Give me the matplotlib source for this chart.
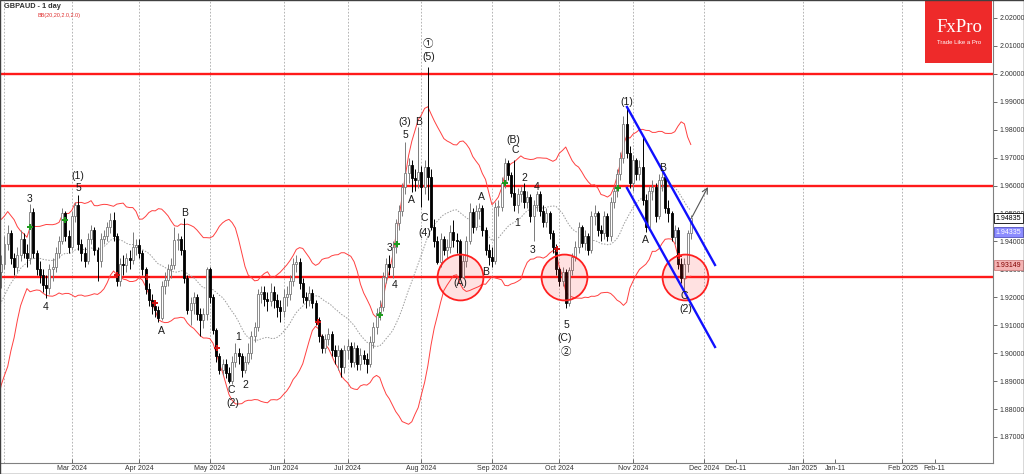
import numpy as np
import pandas as pd
import matplotlib
matplotlib.use("Agg")
import matplotlib.pyplot as plt
from matplotlib.patches import Rectangle
import matplotlib.transforms as mtransforms

# ---------------- data (GBPAUD daily) ----------------
first_open = 1.868
jan_close = [1.872, 1.884, 1.893, 1.896, 1.892, 1.899, 1.898, 1.904, 1.914, 1.917, 1.925,
             1.930, 1.928, 1.929, 1.931, 1.928, 1.933, 1.932, 1.929, 1.927, 1.929, 1.932]
jan_high = [1.876, 1.887, 1.896, 1.899, 1.898, 1.902, 1.903, 1.907, 1.916, 1.920, 1.928,
            1.934, 1.933, 1.932, 1.935, 1.934, 1.936, 1.936, 1.934, 1.932, 1.932, 1.935]
jan_low = [1.864, 1.870, 1.882, 1.890, 1.889, 1.890, 1.895, 1.896, 1.902, 1.911, 1.915,
           1.922, 1.925, 1.925, 1.927, 1.926, 1.927, 1.929, 1.927, 1.924, 1.925, 1.9235]

feb_close = [1.939, 1.943, 1.934, 1.931, 1.935, 1.941, 1.936, 1.934, 1.9507, 1.936, 1.930,
             1.928, 1.9245, 1.9235, 1.930, 1.931, 1.936, 1.940, 1.950, 1.942, 1.938]
feb_high = [1.942, 1.946, 1.944, 1.936, 1.938, 1.944, 1.943, 1.939, 1.9535, 1.952, 1.937,
            1.933, 1.930, 1.928, 1.932, 1.934, 1.938, 1.942, 1.952, 1.951, 1.944]
feb_low = [1.930, 1.937, 1.932, 1.928, 1.929, 1.933, 1.934, 1.931, 1.932, 1.934, 1.928,
           1.925, 1.922, 1.9196, 1.921, 1.926, 1.929, 1.934, 1.939, 1.940, 1.936]

mar_close = [1.949, 1.953, 1.939, 1.936, 1.933, 1.941, 1.944, 1.937, 1.933, 1.941, 1.942,
             1.945, 1.9478, 1.942, 1.926, 1.932, 1.9315, 1.934, 1.9335, 1.938, 1.9387]
mar_high = [1.951, 1.954, 1.9566, 1.941, 1.938, 1.943, 1.946, 1.945, 1.938, 1.943, 1.944,
            1.947, 1.950, 1.9507, 1.943, 1.934, 1.935, 1.936, 1.937, 1.9435, 1.941]
mar_low = [1.937, 1.947, 1.937, 1.933, 1.931, 1.932, 1.939, 1.935, 1.926, 1.931, 1.939,
           1.940, 1.943, 1.940, 1.924, 1.924, 1.928, 1.929, 1.930, 1.932, 1.935]

apr_close = [1.936, 1.930, 1.923, 1.919, 1.917, 1.9155, 1.9125, 1.924, 1.9262, 1.930, 1.9316,
             1.9405, 1.941, 1.937, 1.927, 1.9155, 1.918, 1.920, 1.914, 1.912, 1.914, 1.930]
apr_high = [1.941, 1.937, 1.931, 1.925, 1.921, 1.919, 1.917, 1.926, 1.929, 1.932, 1.934,
            1.9453, 1.943, 1.942, 1.9483, 1.928, 1.920, 1.922, 1.921, 1.916, 1.916, 1.931]
apr_low = [1.934, 1.928, 1.921, 1.917, 1.914, 1.913, 1.9113, 1.912, 1.921, 1.924, 1.927,
           1.930, 1.937, 1.935, 1.925, 1.914, 1.910, 1.914, 1.912, 1.906, 1.909, 1.912]

may_close = [1.920, 1.9083, 1.899, 1.894, 1.896, 1.893, 1.890, 1.897, 1.900, 1.899, 1.894,
             1.897, 1.900, 1.906, 1.9095, 1.921, 1.922, 1.9195, 1.9185, 1.922, 1.919, 1.9166, 1.915]
may_high = [1.931, 1.921, 1.909, 1.900, 1.898, 1.898, 1.895, 1.899, 1.9035, 1.902, 1.900,
            1.899, 1.9035, 1.908, 1.911, 1.923, 1.924, 1.924, 1.922, 1.925, 1.924, 1.921, 1.919]
may_low = [1.918, 1.907, 1.897, 1.8925, 1.892, 1.891, 1.8892, 1.889, 1.895, 1.896, 1.8916,
           1.893, 1.896, 1.898, 1.904, 1.908, 1.918, 1.917, 1.915, 1.917, 1.916, 1.913, 1.911]

jun_close = [1.920, 1.921, 1.926, 1.932, 1.9328, 1.925, 1.920, 1.919, 1.9215, 1.918,
             1.912, 1.906, 1.902, 1.905, 1.907, 1.901, 1.899, 1.901, 1.895, 1.901]
jun_high = [1.923, 1.924, 1.928, 1.934, 1.935, 1.934, 1.927, 1.922, 1.924, 1.923,
            1.919, 1.913, 1.907, 1.907, 1.909, 1.908, 1.903, 1.903, 1.902, 1.903]
jun_low = [1.913, 1.917, 1.919, 1.924, 1.929, 1.923, 1.918, 1.916, 1.917, 1.916,
           1.910, 1.904, 1.900, 1.900, 1.903, 1.899, 1.896, 1.894, 1.8916, 1.893]

jul_close = [1.9027, 1.897, 1.902, 1.896, 1.8995, 1.898, 1.896, 1.904, 1.9095, 1.9142, 1.9166,
             1.9274, 1.932, 1.931, 1.938, 1.9465, 1.951, 1.9596, 1.9644, 1.9674, 1.9627, 1.962, 1.965]
jul_high = [1.905, 1.904, 1.904, 1.903, 1.902, 1.901, 1.900, 1.906, 1.911, 1.916, 1.919,
            1.929, 1.934, 1.935, 1.940, 1.948, 1.953, 1.961, 1.9757, 1.970, 1.969, 1.966, 1.981]
jul_low = [1.898, 1.895, 1.895, 1.894, 1.894, 1.896, 1.893, 1.895, 1.902, 1.907, 1.912,
           1.915, 1.925, 1.928, 1.927, 1.936, 1.944, 1.949, 1.957, 1.961, 1.9578, 1.958, 1.959]

aug_close = [1.9596, 1.9668, 1.963, 1.9453, 1.940, 1.9328, 1.941, 1.937, 1.938, 1.9435, 1.9405,
             1.940, 1.9274, 1.933, 1.940, 1.9507, 1.9453, 1.951, 1.952, 1.944, 1.937, 1.9345]
aug_high = [1.967, 1.969, 2.0025, 1.966, 1.948, 1.942, 1.943, 1.942, 1.941, 1.946, 1.9475,
            1.943, 1.941, 1.935, 1.942, 1.9537, 1.952, 1.953, 1.9537, 1.953, 1.945, 1.939]
aug_low = [1.9525, 1.957, 1.955, 1.944, 1.938, 1.932, 1.931, 1.935, 1.934, 1.936, 1.938,
           1.936, 1.9265, 1.927, 1.931, 1.939, 1.943, 1.944, 1.948, 1.942, 1.935, 1.9316]

sep_close = [1.933, 1.9524, 1.9525, 1.961, 1.968, 1.9638, 1.9572, 1.953, 1.957, 1.958, 1.954,
             1.956, 1.949, 1.953, 1.957, 1.951, 1.947, 1.950, 1.943, 1.938, 1.930]
sep_high = [1.938, 1.954, 1.955, 1.963, 1.9697, 1.969, 1.965, 1.969, 1.959, 1.960, 1.961,
            1.958, 1.957, 1.955, 1.958, 1.958, 1.953, 1.952, 1.951, 1.944, 1.939]
sep_low = [1.931, 1.932, 1.949, 1.951, 1.959, 1.962, 1.956, 1.951, 1.950, 1.954, 1.952,
           1.952, 1.947, 1.940, 1.951, 1.949, 1.945, 1.945, 1.941, 1.936, 1.928]

oct_close = [1.926, 1.929, 1.918, 1.9298, 1.9345, 1.938, 1.945, 1.9393, 1.942, 1.937, 1.949,
             1.950, 1.944, 1.943, 1.949, 1.942, 1.954, 1.958, 1.964, 1.970, 1.982, 1.9715, 1.961]
oct_high = [1.931, 1.931, 1.930, 1.931, 1.936, 1.940, 1.947, 1.946, 1.944, 1.943, 1.951,
            1.953, 1.951, 1.946, 1.951, 1.950, 1.956, 1.960, 1.966, 1.972, 1.985, 1.9883, 1.974]
oct_low = [1.924, 1.924, 1.916, 1.917, 1.928, 1.933, 1.936, 1.938, 1.937, 1.935, 1.936,
           1.946, 1.942, 1.940, 1.941, 1.940, 1.940, 1.952, 1.956, 1.962, 1.968, 1.970, 1.959]

nov_close = [1.969, 1.964, 1.9665, 1.955, 1.9453, 1.958, 1.9596, 1.949, 1.962, 1.963,
             1.952, 1.950, 1.9417, 1.944, 1.932, 1.927, 1.932, 1.943, 1.94835]
nov_high = [1.971, 1.970, 1.969, 1.978, 1.957, 1.960, 1.962, 1.961, 1.964, 1.965,
            1.964, 1.955, 1.951, 1.946, 1.945, 1.934, 1.934, 1.944, 1.9495]
nov_low = [1.958, 1.962, 1.962, 1.953, 1.9435, 1.944, 1.955, 1.947, 1.948, 1.958,
           1.950, 1.947, 1.940, 1.939, 1.930, 1.925, 1.9226, 1.929, 1.941]

first_date, last_date, view_start = "2024-01-02", "2024-11-27", "2024-02-01"

# horizontal levels, trend channel, circles, arrow
levels = [2.0000, 1.9600, 1.9273]
chan_x = [194.1, 221.55]
chan_upper = [1.98813, 1.93157]
chan_lower = [1.95913, 1.90221]
circle_x = [142.0, 174.5, 212.2]
circle_p = [1.9273, 1.9273, 1.9273]
arrow_from = (214.4, 1.94875)
arrow_to = (219.35, 1.95949)

# wave labels: (bar position, price, text)
wave_labels = [
    (7.95, 1.95509, "3"), (12.85, 1.91663, "4"), (23.0, 1.96343, "(1)"), (23.0, 1.95903, "5"),
    (49.0, 1.90804, "A"), (56.1, 1.95029, "B"), (70.85, 1.88681, "C"), (71.2, 1.88205, "(2)"),
    (72.9, 1.90589, "1"), (75.0, 1.88860, "2"),
    (120.0, 1.93776, "3"), (121.8, 1.92440, "4"), (124.9, 1.98287, "(3)"), (124.9, 1.97811, "5"),
    (129.0, 1.98287, "B"), (127.0, 1.95484, "A"), (130.9, 1.94839, "C"), (131.1, 1.94302, "(4)"),
    (132.15, 2.01069, "①"), (132.15, 2.00593, "(5)"),
    (142.0, 1.92523, "(A)"), (148.8, 1.95603, "A"), (150.05, 1.92917, "B"),
    (158.65, 1.97632, "(B)"), (159.2, 1.97274, "C"), (160.0, 1.94660, "1"), (162.0, 1.96271, "2"),
    (166.0, 1.95949, "4"), (164.8, 1.93694, "3"),
    (175.1, 1.91008, "5"), (174.8, 1.90543, "(C)"), (175.1, 1.90042, "②"),
    (194.0, 1.99003, "(1)"), (200.0, 1.94051, "A"), (205.2, 1.96629, "B"),
    (211.9, 1.92057, "C"), (212.4, 1.91581, "(2)"),
]

sig_up = [(7.95, 1.9453), (18.9, 1.9477), (117.1, 1.9137), (122.3, 1.9390),
          (156.1, 1.9608), (191.4, 1.9590)]
sig_dn = [(35.0, 1.9280), (44.3, 1.9274), (46.9, 1.9179), (66.2, 1.9017),
          (97.9, 1.9113), (172.2, 1.9372), (210.3, 1.9349)]

tick_dates = ["2024-03-01", "2024-04-01", "2024-05-01", "2024-06-01", "2024-07-01",
              "2024-08-01", "2024-09-01", "2024-10-01", "2024-11-01", "2024-12-01",
              "2024-12-11", "2025-01-01", "2025-01-11", "2025-02-01", "2025-02-11"]
tick_labels = ["Mar 2024", "Apr 2024", "May 2024", "Jun 2024", "Jul 2024", "Aug 2024",
               "Sep 2024", "Oct 2024", "Nov 2024", "Dec 2024", "Dec-11", "Jan 2025",
               "Jan-11", "Feb 2025", "Feb-11"]
grid_dates = ["2024-02-01", "2024-03-01", "2024-04-01", "2024-05-01", "2024-06-01",
              "2024-07-01", "2024-08-01", "2024-09-01", "2024-10-01", "2024-11-01",
              "2024-12-01", "2025-01-01", "2025-02-01"]

price_boxes = [(1.94835, "1.94835", "white", "black", "black"),
               (1.94335, "1.94335", "#8c8cff", "#5050c0", "white"),
               (1.93149, "1.93149", "#f4b4b4", "#d08080", "#800000")]

# ---------------- assemble ----------------
close = np.array(jan_close + feb_close + mar_close + apr_close + may_close + jun_close +
                 jul_close + aug_close + sep_close + oct_close + nov_close)
high = np.array(jan_high + feb_high + mar_high + apr_high + may_high + jun_high +
                jul_high + aug_high + sep_high + oct_high + nov_high)
low = np.array(jan_low + feb_low + mar_low + apr_low + may_low + jun_low +
               jul_low + aug_low + sep_low + oct_low + nov_low)
opn = np.concatenate([[first_open], close[:-1]])
dates = pd.bdate_range(first_date, last_date)
assert len(dates) == len(close) == len(high) == len(low)
i0 = dates.get_loc(pd.Timestamp(view_start))
x = np.arange(len(close)) - i0
last_ts = dates[-1]


def date_pos(d):
    d = pd.Timestamp(d)
    if d <= last_ts:
        return int(np.searchsorted(dates, d)) - i0
    return x[-1] + (d - last_ts).days


s = pd.Series(close)
mid = s.rolling(20).mean().values
sd = s.rolling(20).std(ddof=0).values
upper = mid + 2 * sd
lower = mid - 2 * sd

# ---------------- figure ----------------
W, H = 1024, 474
fig = plt.figure(figsize=(W / 100, H / 100), dpi=100)
fig.patch.set_facecolor("white")
ax = fig.add_axes([0, 11 / H, 993 / W, 463 / H])
ax.set_facecolor("white")

ax.set_xlim(-1.403, 308.23)
ax.set_ylim(1.86067, 2.02644)

for d in grid_dates:
    ax.axvline(date_pos(d), color="#a8a8a8", lw=0.6, ls=(0, (2, 2)), zorder=0.5)

for lv in levels:
    ax.axhline(lv, color="#ff1a1a", lw=1.7, zorder=1)

ax.plot(x, upper, color="#ff4040", lw=0.7, zorder=1.5)
ax.plot(x, lower, color="#ff4040", lw=0.7, zorder=1.5)
ax.plot(x, mid, color="#9a9a9a", lw=0.7, ls=(0, (1.5, 1.5)), zorder=1.5)

bull = close >= opn
body_lo = np.minimum(opn, close)
body_h = np.maximum(np.abs(close - opn), 0.00025)
ax.vlines(x[bull], low[bull], high[bull], color="#7a7a7a", lw=0.7, zorder=2)
ax.vlines(x[~bull], low[~bull], high[~bull], color="black", lw=0.7, zorder=2)
ax.bar(x[bull], body_h[bull], bottom=body_lo[bull], width=0.62, color="white",
       edgecolor="#7a7a7a", lw=0.6, zorder=2.2)
ax.bar(x[~bull], body_h[~bull], bottom=body_lo[~bull], width=0.62, color="black",
       edgecolor="black", lw=0.6, zorder=2.2)

ax.plot([p[0] for p in sig_up], [p[1] for p in sig_up], ls="none", marker="+",
        ms=4, mew=1.4, color="#1a9a1a", zorder=2.5)
ax.plot([p[0] for p in sig_dn], [p[1] for p in sig_dn], ls="none", marker="+",
        ms=4, mew=1.4, color="#d01010", zorder=2.5)

ax.plot(circle_x, circle_p, ls="none", marker="o", ms=33, mew=1.3,
        mfc=(1.0, 0.1, 0.1, 0.13), mec="#ff2020", zorder=3)

ax.plot(chan_x, chan_upper, color="#1010ff", lw=1.7, zorder=3.2)
ax.plot(chan_x, chan_lower, color="#1010ff", lw=1.7, zorder=3.2)
ax.annotate("", xy=arrow_to, xytext=arrow_from,
            arrowprops=dict(arrowstyle="->", color="#555555", lw=0.8,
                            shrinkA=0, shrinkB=0), zorder=3.3)

fam = ["Liberation Sans", "Noto Sans CJK JP", "DejaVu Sans"]
for xi, pi, t in wave_labels:
    ax.text(xi, pi, t, ha="center", va="center", fontsize=7.5, color="#1a1a1a",
            family=fam, zorder=4)

# axes styling
for sp in ["left", "top"]:
    ax.spines[sp].set_visible(False)
for sp in ["bottom", "right"]:
    ax.spines[sp].set_color("#808080")
    ax.spines[sp].set_linewidth(0.8)

ax.yaxis.tick_right()
yt = np.round(np.arange(1.87, 2.02001, 0.01), 2)
ax.set_yticks(yt)
ax.set_yticklabels([f"{v:.5f}" for v in yt])
ax.tick_params(axis="y", direction="out", length=3, width=0.6, color="#555555",
               labelsize=5, pad=1.5, labelcolor="#333333")
for lab in ax.get_yticklabels():
    lab.set_family("Liberation Sans")

ax.set_xticks([date_pos(d) for d in tick_dates])
ax.set_xticklabels(tick_labels)
ax.tick_params(axis="x", direction="in", length=3, width=0.6, color="#555555",
               labelsize=5, pad=1.2, labelcolor="#333333")
for lab in ax.get_xticklabels():
    lab.set_family("Liberation Sans")

blend = mtransforms.blended_transform_factory(ax.transAxes, ax.transData)
for p, t, fc, ec, tc in price_boxes:
    ax.text(1.0025, p, t, transform=blend, ha="left", va="center", fontsize=5,
            family="Liberation Sans", color=tc, clip_on=False, zorder=6,
            bbox=dict(boxstyle="square,pad=0.25", fc=fc, ec=ec, lw=0.6))

# title & indicator name
fig.text(4 / W, 1 - 6 / H, "GBPAUD - 1 day", ha="left", va="center", fontsize=5.3,
         fontweight="bold", color="#303030", family="Liberation Sans")
fig.text(37 / W, 1 - 16 / H, "BB(20,20,2.0,2.0)", ha="left", va="center", fontsize=4,
         color="#e03030", family="Liberation Sans")

# logo
fig.patches.append(Rectangle((925 / W, 1 - 63 / H), 67 / W, 63 / H, transform=fig.transFigure,
                             fc="#ee2a2a", ec="none", zorder=5))
fig.text(959 / W, 1 - 28 / H, "FxPro", ha="center", va="center", fontsize=13.5,
         color="white", family="Liberation Serif", zorder=6)
fig.text(959 / W, 1 - 42 / H, "Trade Like a Pro", ha="center", va="center", fontsize=4.3,
         color="white", family="Liberation Sans", zorder=6)

fig.patches.append(Rectangle((0, 0), 1, 1, transform=fig.transFigure, fc="none",
                             ec="#404040", lw=1.0, zorder=10))

fig.savefig("out.png", dpi=100)
